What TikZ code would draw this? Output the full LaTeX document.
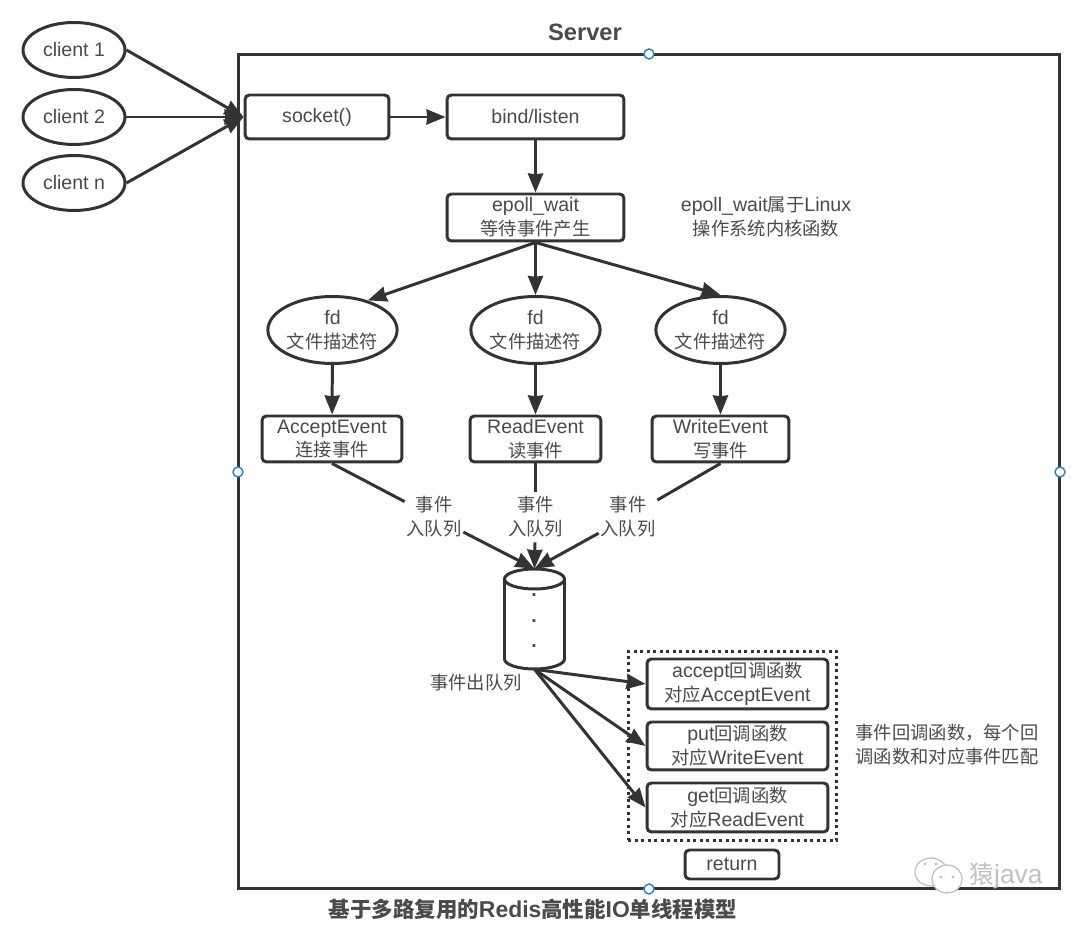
\documentclass[tikz,border=0pt]{standalone}
\usepackage{fontspec}
\setmainfont{Liberation Sans}[Scale=1.07]
\newfontfamily\cjk{Noto Sans CJK SC}
\newcommand{\zh}[1]{{\cjk #1}}
\usetikzlibrary{arrows.meta,shapes.geometric}
\definecolor{inkline}{HTML}{333333}
\definecolor{inktext}{HTML}{4A4A4A}
\definecolor{handle}{HTML}{2F80B8}
\definecolor{markgray}{HTML}{C0C0C0}
\tikzset{
  every node/.style={font=\fontsize{10.4}{13.6}\selectfont, text=inktext, inner sep=0pt, align=center},
  box/.style={draw=inkline, line width=1.7pt, rounded corners=2.5pt},
  oval/.style={draw=inkline, line width=1.7pt, ellipse, minimum width=2.46cm, minimum height=1.34cm},
  clientoval/.style={oval, minimum width=2.04cm, minimum height=1.1cm},
  flow/.style={draw=inkline, line width=1.7pt, -{Stealth[length=0.38cm,width=0.3cm,inset=0.015cm]}},
  plain/.style={draw=inkline, line width=1.7pt},
  handlept/.style={circle, draw=handle, fill=white, line width=0.8pt, minimum size=0.2cm},
  qlabel/.style={minimum width=1.16cm, minimum height=1cm},
}
\begin{document}
\begin{tikzpicture}[x=0.02cm, y=-0.02cm]
  \useasboundingbox (0,0) rectangle (1080,925);
  % Server frame
  \node[plain, minimum width=16.44cm, minimum height=16.7cm] (server) at (649,471.5) {};
  \node[font=\fontsize{12.6}{16}\selectfont\bfseries] (title) at (585,32) {Server};
  \node[handlept] (h1) at (649,54) {};
  \node[handlept] (h2) at (238,472) {};
  \node[handlept] (h3) at (1060,472) {};
  \node[handlept] (h4) at (649,889) {};
  % Clients
  \node[clientoval] (client1) at (74,50) {client 1};
  \node[clientoval] (client2) at (74,117) {client 2};
  \node[clientoval] (clientn) at (74,183) {client n};
  % Setup
  \node[box, minimum width=2.88cm, minimum height=0.88cm] (socket) at (317,117) {socket()};
  \node[box, minimum width=3.54cm, minimum height=0.88cm] (bind) at (535.5,117) {bind/listen};
  \node[box, minimum width=3.54cm, minimum height=0.94cm] (epoll) at (535.5,217.5) {epoll\_wait\\\zh{等待事件产生}};
  \node (epollnote) at (766,217) {epoll\_wait\zh{属于}Linux\\\zh{操作系统内核函数}};
  % File descriptors
  \node[oval] (fd1) at (332.5,330) {fd\\\zh{文件描述符}};
  \node[oval] (fd2) at (535.5,330) {fd\\\zh{文件描述符}};
  \node[oval] (fd3) at (720.5,330) {fd\\\zh{文件描述符}};
  % Events
  \node[box, minimum width=2.8cm, minimum height=0.92cm] (accept) at (332,439) {AcceptEvent\\\zh{连接事件}};
  \node[box, minimum width=2.62cm, minimum height=0.92cm] (read) at (535.5,439) {ReadEvent\\\zh{读事件}};
  \node[box, minimum width=2.74cm, minimum height=0.92cm] (write) at (720.5,439) {WriteEvent\\\zh{写事件}};
  \node[qlabel] (q1) at (434,517) {\zh{事件}\\\zh{入队列}};
  \node[qlabel] (q2) at (535.5,517) {\zh{事件}\\\zh{入队列}};
  \node[qlabel] (q3) at (628,517) {\zh{事件}\\\zh{入队列}};
  % Queue
  \node[minimum width=1.2cm, minimum height=2cm] (queue) at (534.5,619) {};
  \draw[plain] (504.5,579) -- (504.5,659) arc (180:0:30 and 10) -- (564.5,579);
  \draw[plain] (534.5,579) ellipse (30 and 10);
  \node[font=\fontsize{10.4}{14.5}\selectfont\bfseries] (qdots) at (534,621) {.\\.\\.};
  \node (dequeue) at (476,683) {\zh{事件出队列}};
  % Callbacks
  \node[draw=inkline, line width=1.7pt, dotted, minimum width=4.18cm, minimum height=3.78cm] (cbgroup) at (732.5,746) {};
  \node[box, minimum width=3.62cm, minimum height=1cm] (cbaccept) at (737.5,684) {accept\zh{回调函数}\\\zh{对应}AcceptEvent};
  \node[box, minimum width=3.62cm, minimum height=0.96cm] (cbput) at (737.5,746) {put\zh{回调函数}\\\zh{对应}WriteEvent};
  \node[box, minimum width=3.62cm, minimum height=0.98cm] (cbget) at (737.5,807.5) {get\zh{回调函数}\\\zh{对应}ReadEvent};
  \node[box, minimum width=1.88cm, minimum height=0.58cm] (return) at (732,864.5) {return};
  \node (cbnote) at (947,745) {\zh{事件回调函数，每个回}\\\zh{调函数和对应事件匹配}};
  % Caption
  \node[font=\fontsize{12.2}{14}\selectfont\bfseries] (caption) at (533,909) {\zh{基于多路复用的}Redis\zh{高性能}IO\zh{单线程模型}};
  % Watermark
  \draw[markgray, fill=white, line width=0.7pt] (931,872) ellipse (16 and 14);
  \draw[markgray, fill=white, line width=0.7pt] (947,879) ellipse (15 and 14);
  \foreach \x/\y in {925/864, 936/864, 941/877, 953/877}
    \fill[markgray] (\x,\y) circle (1.6);
  \node[font=\fontsize{14}{16}\selectfont, text=markgray] (mark) at (1006,876) {\zh{猿}java};
  % Connect the clients
  \draw[flow] (client1.east) -- (socket.west);
  \draw[flow] (client2.east) -- (socket.west);
  \draw[flow] (clientn.east) -- (socket.west);
  \draw[flow] (socket) -- (bind);
  \draw[flow] (bind) -- (epoll);
  % Draw the event flow
  \draw[flow] (epoll.south) -- (fd1.40);
  \draw[flow] (epoll.south) -- (fd2.north);
  \draw[flow] (epoll.south) -- (fd3.north);
  \draw[flow] (fd1) -- (accept);
  \draw[flow] (fd2) -- (read);
  \draw[flow] (fd3) -- (write);
  \draw[plain] (accept.south) -- (q1);
  \draw[plain] (read.south) -- (q2);
  \draw[plain] (write.south) -- (q3);
  \draw[flow] (q1) -- (queue.north);
  \draw[flow] (q2) -- (queue.north);
  \draw[flow] (q3) -- (queue.north);
  \draw[flow] (queue.south) -- (cbaccept.west);
  \draw[flow] (queue.south) -- (cbput.west);
  \draw[flow] (queue.south) -- (cbget.west);
\end{tikzpicture}
\end{document}
